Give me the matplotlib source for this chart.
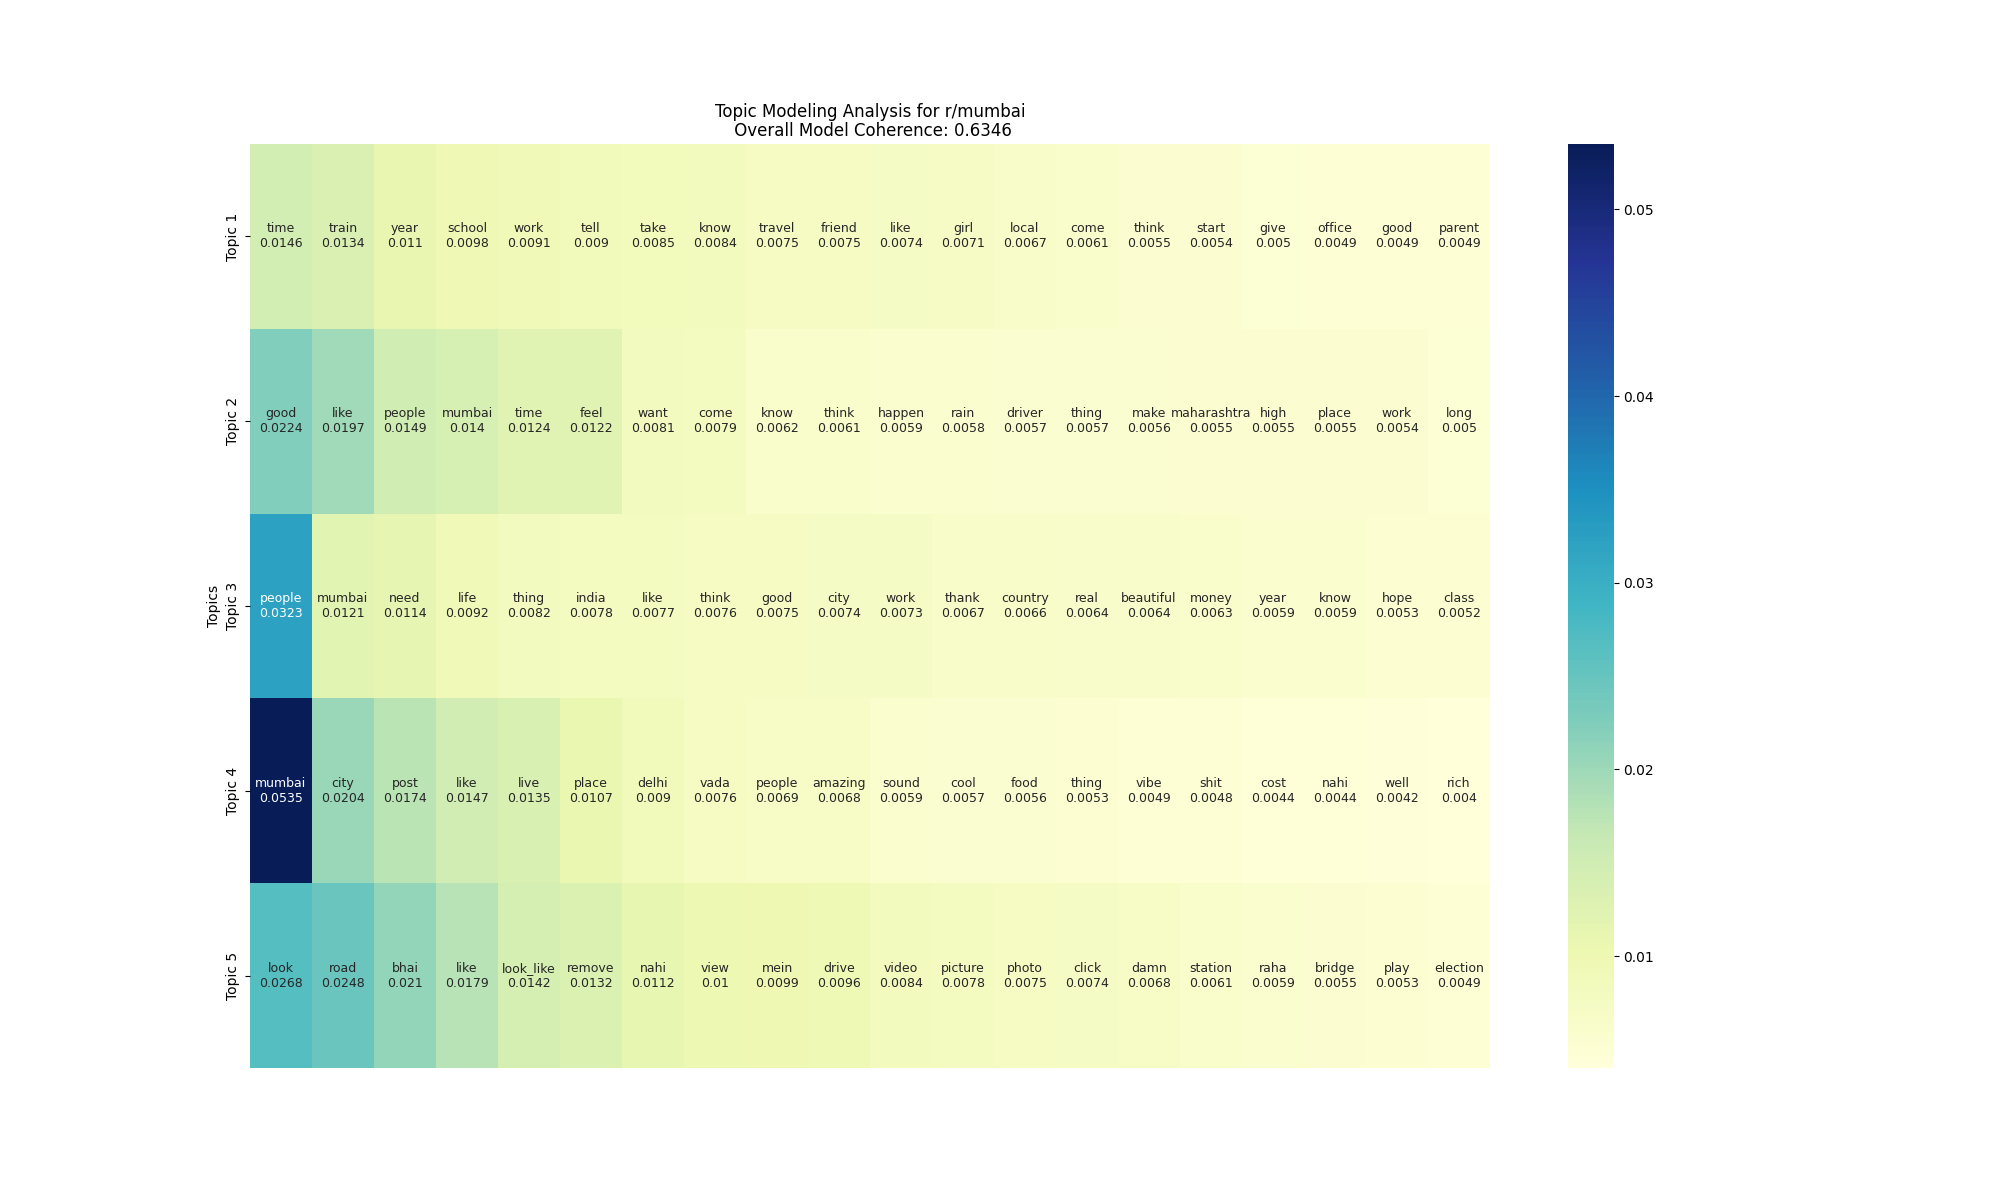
import numpy as np
import matplotlib
matplotlib.use("Agg")
import matplotlib.pyplot as plt
import seaborn as sns

topics = ["Topic 1", "Topic 2", "Topic 3", "Topic 4", "Topic 5"]

words_t1 = ["time", "train", "year", "school", "work", "tell", "take", "know", "travel", "friend",
            "like", "girl", "local", "come", "think", "start", "give", "office", "good", "parent"]
vals_t1 = [0.0146, 0.0134, 0.011, 0.0098, 0.0091, 0.009, 0.0085, 0.0084, 0.0075, 0.0075,
           0.0074, 0.0071, 0.0067, 0.0061, 0.0055, 0.0054, 0.005, 0.0049, 0.0049, 0.0049]

words_t2 = ["good", "like", "people", "mumbai", "time", "feel", "want", "come", "know", "think",
            "happen", "rain", "driver", "thing", "make", "maharashtra", "high", "place", "work", "long"]
vals_t2 = [0.0224, 0.0197, 0.0149, 0.014, 0.0124, 0.0122, 0.0081, 0.0079, 0.0062, 0.0061,
           0.0059, 0.0058, 0.0057, 0.0057, 0.0056, 0.0055, 0.0055, 0.0055, 0.0054, 0.005]

words_t3 = ["people", "mumbai", "need", "life", "thing", "india", "like", "think", "good", "city",
            "work", "thank", "country", "real", "beautiful", "money", "year", "know", "hope", "class"]
vals_t3 = [0.0323, 0.0121, 0.0114, 0.0092, 0.0082, 0.0078, 0.0077, 0.0076, 0.0075, 0.0074,
           0.0073, 0.0067, 0.0066, 0.0064, 0.0064, 0.0063, 0.0059, 0.0059, 0.0053, 0.0052]

words_t4 = ["mumbai", "city", "post", "like", "live", "place", "delhi", "vada", "people", "amazing",
            "sound", "cool", "food", "thing", "vibe", "shit", "cost", "nahi", "well", "rich"]
vals_t4 = [0.0535, 0.0204, 0.0174, 0.0147, 0.0135, 0.0107, 0.009, 0.0076, 0.0069, 0.0068,
           0.0059, 0.0057, 0.0056, 0.0053, 0.0049, 0.0048, 0.0044, 0.0044, 0.0042, 0.004]

words_t5 = ["look", "road", "bhai", "like", "look_like", "remove", "nahi", "view", "mein", "drive",
            "video", "picture", "photo", "click", "damn", "station", "raha", "bridge", "play", "election"]
vals_t5 = [0.0268, 0.0248, 0.021, 0.0179, 0.0142, 0.0132, 0.0112, 0.01, 0.0099, 0.0096,
           0.0084, 0.0078, 0.0075, 0.0074, 0.0068, 0.0061, 0.0059, 0.0055, 0.0053, 0.0049]

words = [words_t1, words_t2, words_t3, words_t4, words_t5]
vals = np.array([vals_t1, vals_t2, vals_t3, vals_t4, vals_t5])

annot = np.array([[f"{w}\n{v:g}" for w, v in zip(wr, vr)] for wr, vr in zip(words, vals)])

fig, ax = plt.subplots(figsize=(20, 12), dpi=100)
sns.heatmap(vals, annot=annot, fmt="", cmap="YlGnBu", xticklabels=False,
            yticklabels=topics, ax=ax, annot_kws={"fontsize": 9})
ax.set_title("Topic Modeling Analysis for r/mumbai\n Overall Model Coherence: 0.6346",
             linespacing=1.05)
ax.set_ylabel("Topics")
plt.setp(ax.get_yticklabels(), rotation=90, va="center")
fig.savefig("out.png")
